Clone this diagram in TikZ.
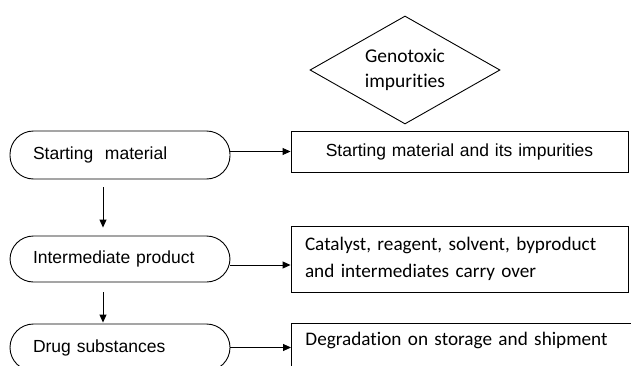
\documentclass[tikz,border=0pt]{standalone}
\usepackage{fontspec}
\setmainfont{Liberation Sans}
\newfontfamily\calibri[Ligatures=NoCommon, WordSpace={0.6,0.3,0.2}]{Carlito}
\usetikzlibrary{shapes.geometric,arrows.meta}

\begin{document}
\begin{tikzpicture}[
        x=1pt, y=1pt,
        line width=0.9pt,
        font=\fontsize{17.5}{21}\selectfont
    ]
    \tikzset{
        stagenode/.style = {draw, rectangle, rounded corners=23.5pt, minimum height=47pt, text width=174pt, inner xsep=23pt, align=left},
        sourcenode/.style = {draw, rectangle, text width=309pt, inner xsep=14pt},
        gtinode/.style = {draw, diamond, aspect=1.76, minimum width=190pt, minimum height=108pt, inner sep=0pt, align=center, font=\calibri\fontsize{19.5}{25}\selectfont},
        calfont/.style = {font=\calibri\fontsize{19.2}{27}\selectfont},
        flow/.style = {-{Triangle[length=8pt,width=7pt]}},
    }
        \clip (0,0) rectangle (631,365);
        \useasboundingbox (0,0) rectangle (631,365);
        %
        \node[gtinode] at (405,295) (gti) {Genotoxic\\impurities};
        %
        \node[stagenode, minimum height=48pt] at (120,210) (sm) {Starting\ \ material};
        \node[stagenode, minimum height=46pt] at (120,106) (im) {Intermediate product};
        \node[stagenode] at (120,17.5) (ds) {Drug substances};
        %
        \node[sourcenode, minimum height=41pt, align=center] at (459.5,213.5) (b1) {Starting material and its impurities};
        \node[sourcenode, calfont, minimum height=66pt, align=left] at (459.5,106) (b2) {Catalyst, reagent, solvent, byproduct\\and intermediates carry over};
        \node[sourcenode, calfont, anchor=north west, align=left, text width=317pt, inner ysep=9pt, text depth=26pt] at (291,42) (b3) {Degradation on storage and shipment};
        %
        \draw[flow, shorten <=8pt, shorten >=8pt] ([xshift=-17pt]sm.south) -- ([xshift=-17pt]im.north);
        \draw[flow, shorten <=10pt, shorten >=1pt] ([xshift=-17pt]im.south) -- ([xshift=-17pt]ds.north);
        %
        \coordinate (imout) at ([yshift=-6pt]im.east);
        \draw[flow] (sm.east |- b1.west) -- (b1.west);
        \draw[flow] (imout) -- (imout -| b2.west);
        \draw[flow] (ds.east) -- (ds.east -| b3.west);
    \end{tikzpicture}
\end{document}
